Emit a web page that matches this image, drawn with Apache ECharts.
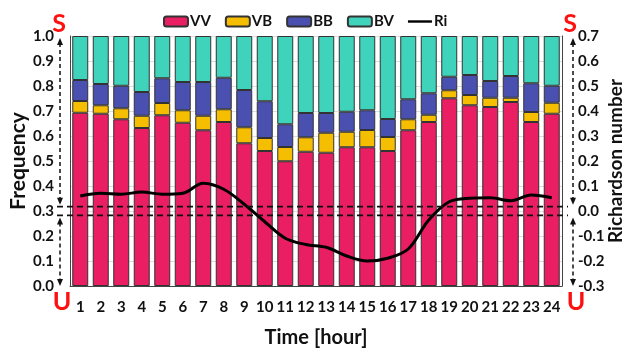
<!DOCTYPE html>
<html>
<head>
<meta charset="utf-8">
<script src="https://cdn.jsdelivr.net/npm/echarts@6/dist/echarts.min.js"></script>
<style>
  html, body { margin: 0; padding: 0; background: #fff; }
  #chart { width: 623px; height: 354px; }
</style>
</head>
<body>
<div id="chart"></div>
<script>
// hour of day
var hours = ['1','2','3','4','5','6','7','8','9','10','11','12','13','14','15','16','17','18','19','20','21','22','23','24'];
// frequency of each regime (stacked to 1.0)
var vv = [0.693,0.689,0.667,0.632,0.683,0.653,0.623,0.656,0.571,0.540,0.499,0.537,0.533,0.555,0.555,0.540,0.623,0.656,0.751,0.723,0.716,0.736,0.656,0.689];
var vb = [0.047,0.034,0.044,0.049,0.049,0.050,0.058,0.051,0.064,0.052,0.057,0.058,0.080,0.062,0.069,0.056,0.044,0.029,0.032,0.041,0.037,0.017,0.040,0.044];
var bb = [0.084,0.085,0.090,0.095,0.099,0.113,0.135,0.126,0.149,0.147,0.091,0.097,0.079,0.080,0.079,0.072,0.080,0.086,0.054,0.080,0.067,0.087,0.115,0.068];
var bv = [0.176,0.192,0.199,0.224,0.169,0.184,0.184,0.167,0.216,0.261,0.353,0.308,0.308,0.303,0.297,0.332,0.253,0.229,0.163,0.156,0.180,0.160,0.189,0.199];
// Richardson number
var ri = [0.060,0.071,0.067,0.076,0.067,0.071,0.111,0.087,0.027,-0.043,-0.109,-0.134,-0.145,-0.180,-0.200,-0.189,-0.152,-0.036,0.037,0.051,0.053,0.041,0.064,0.053];
// neutral band limits on the Ri axis
var riBand = [0.0175, -0.0175];

var FONT = 'Lato';
var chart = echarts.init(document.getElementById('chart'));

function barSeries(name, data, color) {
  return {
    name: name,
    type: 'bar',
    stack: 'freq',
    barWidth: '78%',
    itemStyle: { color: color, borderColor: '#333', borderWidth: 1 },
    data: data
  };
}

function fmt(v) {
  if (Math.abs(v) < 1e-9) return '0.0';
  return v.toFixed(1);
}

var option = {
  animation: false,
  textStyle: { fontFamily: FONT },
  legend: {
    top: 9,
    left: 158,
    itemWidth: 24,
    itemHeight: 10,
    itemGap: 14,
    textStyle: { fontFamily: FONT, fontWeight: 'bold', fontSize: 15, color: '#111', padding: [0, 0, 0, -3] },
    data: ['VV', 'VB', 'BB', 'BV', { name: 'Ri', icon: 'path://M0,0 H30 V3 H0 Z' }]
  },
  grid: { left: 70, right: 61, top: 36, bottom: 68, outerBoundsMode: 'none' },
  xAxis: {
    type: 'category',
    data: hours,
    name: 'Time [hour]',
    nameLocation: 'middle',
    nameGap: 42,
    nameTextStyle: { fontFamily: FONT, fontWeight: 'bold', fontSize: 20, color: '#111' },
    axisTick: { show: false },
    axisLine: { lineStyle: { color: '#444', width: 1 } },
    axisLabel: { fontFamily: FONT, fontWeight: 'bold', fontSize: 15, color: '#111', margin: 14, interval: 0 }
  },
  yAxis: [
    {
      type: 'value',
      min: 0, max: 1, interval: 0.1,
      name: 'Frequency',
      nameLocation: 'middle',
      nameRotate: 90,
      nameGap: 41,
      nameMoveOverlap: false,
      nameTextStyle: { fontFamily: FONT, fontWeight: 'bold', fontSize: 21, color: '#111' },
      axisLine: { show: true, lineStyle: { color: '#444' } },
      axisTick: { show: false },
      splitLine: { lineStyle: { color: '#ddd' } },
      axisLabel: { fontFamily: FONT, fontWeight: 'bold', fontSize: 15, color: '#111', margin: 16, formatter: fmt }
    },
    {
      type: 'value',
      min: -0.3, max: 0.7, interval: 0.1,
      name: 'Richardson number',
      nameLocation: 'middle',
      nameRotate: 90,
      nameGap: 44,
      nameMoveOverlap: false,
      nameTextStyle: { fontFamily: FONT, fontWeight: 'bold', fontSize: 19, color: '#111' },
      axisLine: { show: true, lineStyle: { color: '#444' } },
      axisTick: { show: false },
      splitLine: { show: false },
      axisLabel: { fontFamily: FONT, fontWeight: 'bold', fontSize: 15, color: '#111', margin: 16, formatter: fmt }
    }
  ],
  series: [
    barSeries('VV', vv, '#E91E63'),
    barSeries('VB', vb, '#F6BE00'),
    barSeries('BB', bb, '#4A50B0'),
    barSeries('BV', bv, '#40D3BB'),
    {
      name: 'Ri',
      type: 'line',
      yAxisIndex: 1,
      smooth: 0.35,
      symbol: 'none',
      lineStyle: { color: '#000', width: 3 },
      itemStyle: { color: '#000' },
      data: ri,
      z: 5
    }
  ]
};

chart.setOption(option);

// annotation: neutral band lines, stable/unstable arrows, S / U letters
function arrowPair(x, yTop, yBot) {
  var c = '#111';
  return [
    { type: 'line', silent: true, z: 10,
      shape: { x1: x, y1: yTop + 5, x2: x, y2: yBot - 5 },
      style: { stroke: c, lineWidth: 1.5, lineDash: [4, 3] } },
    { type: 'polygon', silent: true, z: 10,
      shape: { points: [[x, yTop], [x - 3, yTop + 7], [x + 3, yTop + 7]] },
      style: { fill: c } },
    { type: 'polygon', silent: true, z: 10,
      shape: { points: [[x, yBot], [x - 3, yBot - 7], [x + 3, yBot - 7]] },
      style: { fill: c } }
  ];
}

function redLetter(txt, x, y) {
  return { type: 'text', silent: true, z: 10, x: x, y: y,
    style: { text: txt, fill: '#FF1010', fontFamily: FONT, fontWeight: 'bold', fontSize: 25,
             align: 'center', verticalAlign: 'middle' } };
}

var yHi = chart.convertToPixel({ yAxisIndex: 1 }, riBand[0]);
var yLo = chart.convertToPixel({ yAxisIndex: 1 }, riBand[1]);
var yTop = chart.convertToPixel({ yAxisIndex: 0 }, 1);
var yBot = chart.convertToPixel({ yAxisIndex: 0 }, 0);
var xL = 60, xR = 573;

var g = [];
[yHi, yLo].forEach(function (y) {
  g.push({ type: 'line', silent: true, z: 10,
    shape: { x1: 57, y1: y, x2: 568, y2: y },
    style: { stroke: '#111', lineWidth: 1.6, lineDash: [6, 4] } });
});
g = g.concat(arrowPair(xL, yTop + 2, yHi - 2), arrowPair(xL, yLo + 2, yBot));
g = g.concat(arrowPair(xR, yTop + 2, yHi - 2), arrowPair(xR, yLo + 2, yBot));
g.push(redLetter('S', 59, 24), redLetter('S', 570, 24), redLetter('U', 62, 302), redLetter('U', 576, 302));

chart.setOption({ graphic: g });
</script>
</body>
</html>
